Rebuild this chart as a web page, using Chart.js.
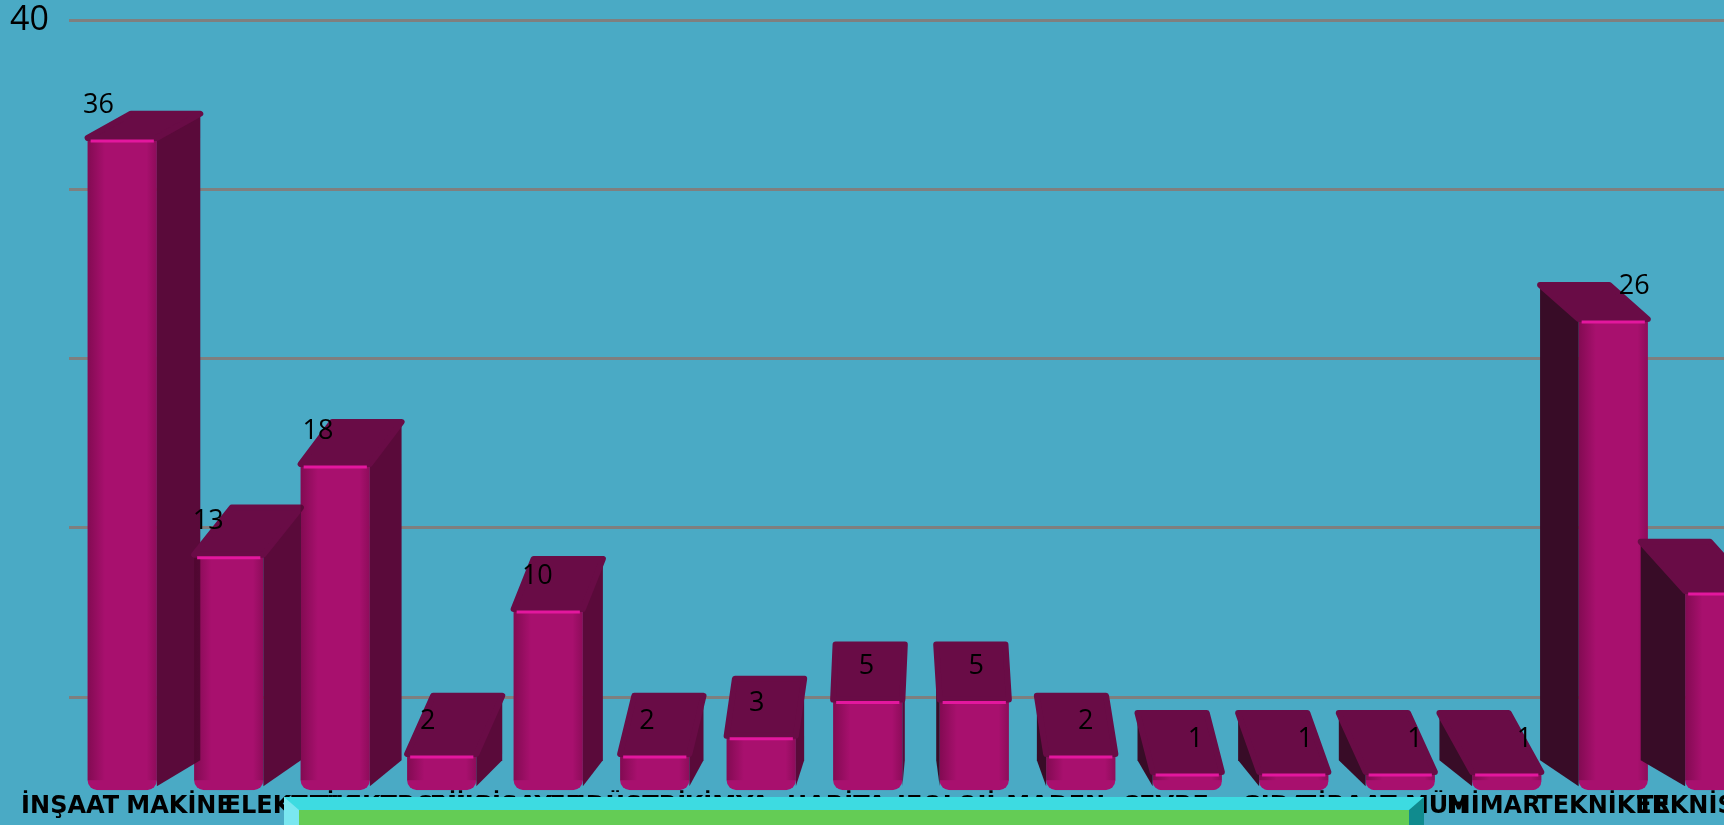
<!DOCTYPE html>
<html>
<head>
<meta charset="utf-8">
<script src="https://cdn.jsdelivr.net/npm/chart.js@4.4.0/dist/chart.umd.min.js"></script>
<style>
  html, body { margin: 0; padding: 0; width: 1724px; height: 825px; overflow: hidden; background: #4aaac5; }
  canvas { display: block; }
</style>
</head>
<body>
<canvas id="grafico" width="1780" height="825"></canvas>
<script>
const bolumler = [
  "İNŞAAT", "MAKİNE", "ELEKTRİK", "ELEKTRONİK", "BİLGİSAYAR", "ENDÜSTRİ",
  "KİMYA", "HARİTA", "JEOLOJİ", "MADEN", "ÇEVRE", "GIDA",
  "ZİRAAT MÜH", "MİMAR", "TEKNİKER", "TEKNİSYEN"
];
const kisiSayisi = [36, 13, 18, 2, 10, 2, 3, 5, 5, 2, 1, 1, 1, 1, 26, 11];
const duvarTikleri = [0, 10, 20, 30, 40];
const gosterilenTik = 40;

// 3B görünüm: üst yüz, yan yüz, parlama ve değer yazısı
const kabartma = {
  id: 'kabartma',
  afterDatasetsDraw(chart) {
    const ctx = chart.ctx;
    const vpX = 912;
    const meta = chart.getDatasetMeta(0);

    meta.data.forEach((bar, i) => {
      const { x, y, base, width } = bar.getProps(['x', 'y', 'base', 'width'], true);
      const l = x - width / 2, r = x + width / 2;
      const dy = 24 + 0.055 * (y - 134);
      const sx = (vpX - x) * 0.055;
      const dyb = (24 + 0.055 * (base - 134)) * 0.5;

      ctx.save();

      // yan yüz
      const e = sx > 0 ? r : l;
      ctx.fillStyle = sx > 0 ? '#5a0a3a' : '#380c27';
      ctx.beginPath();
      ctx.moveTo(e, y);
      ctx.lineTo(e + sx, y - dy);
      ctx.lineTo(e + sx, base - dyb);
      ctx.lineTo(e, base - 4);
      ctx.closePath();
      ctx.fill();

      // ön yüz gölgesi
      const g = ctx.createLinearGradient(l, 0, r, 0);
      g.addColorStop(0, 'rgba(60,0,30,0.35)');
      g.addColorStop(0.25, 'rgba(60,0,30,0)');
      g.addColorStop(0.85, 'rgba(60,0,30,0)');
      g.addColorStop(1, 'rgba(60,0,30,0.25)');
      ctx.fillStyle = g;
      ctx.fillRect(l, y, width, Math.max(0, base - y - 10));

      // üst yüz
      ctx.fillStyle = '#690c46';
      ctx.strokeStyle = '#690c46';
      ctx.lineJoin = 'round';
      ctx.lineWidth = 6;
      ctx.beginPath();
      ctx.moveTo(l, y);
      ctx.lineTo(r, y);
      ctx.lineTo(r + sx, y - dy);
      ctx.lineTo(l + sx, y - dy);
      ctx.closePath();
      ctx.fill();
      ctx.stroke();

      // parlama
      ctx.strokeStyle = '#e3179e';
      ctx.lineWidth = 3;
      ctx.beginPath();
      ctx.moveTo(l + 3, y + 3);
      ctx.lineTo(r - 3, y + 3);
      ctx.stroke();

      // değer
      ctx.fillStyle = '#000';
      ctx.font = '27px "Open Sans"';
      ctx.textAlign = 'center';
      ctx.textBaseline = 'middle';
      ctx.fillText(String(kisiSayisi[i]), x + (x - vpX) * 0.03, y - 33);

      ctx.restore();
    });
  },
  afterDraw(chart) {
    // alttaki zemin kutusu
    const ctx = chart.ctx;
    ctx.save();
    ctx.fillStyle = '#3ddbe1';
    ctx.fillRect(284, 797, 1140, 28);
    ctx.fillStyle = '#64cc55';
    ctx.fillRect(299, 810, 1110, 15);
    ctx.fillStyle = '#7ae7f0';
    ctx.beginPath();
    ctx.moveTo(284, 797); ctx.lineTo(299, 810); ctx.lineTo(299, 825); ctx.lineTo(284, 825);
    ctx.closePath(); ctx.fill();
    ctx.fillStyle = '#108b8e';
    ctx.beginPath();
    ctx.moveTo(1409, 810); ctx.lineTo(1424, 797); ctx.lineTo(1424, 825); ctx.lineTo(1409, 825);
    ctx.closePath(); ctx.fill();
    ctx.restore();
  }
};

new Chart(document.getElementById('grafico'), {
  type: 'bar',
  data: {
    labels: bolumler,
    datasets: [{
      data: kisiSayisi,
      backgroundColor: '#a8106e',
      borderRadius: { topLeft: 0, topRight: 0, bottomLeft: 10, bottomRight: 10 },
      borderSkipped: false,
      categoryPercentage: 1,
      barPercentage: 0.65,
      xAxisID: 'x',
      yAxisID: 'y'
    }]
  },
  options: {
    responsive: false,
    animation: false,
    devicePixelRatio: 1,
    layout: { padding: { left: 0, right: 7, top: 0, bottom: 2 } },
    plugins: { legend: { display: false }, tooltip: { enabled: false } },
    scales: {
      x: { display: false },
      // kategori adları (perspektif nedeniyle çubuklardan biraz daha geniş aralıklı)
      etiket: {
        type: 'linear',
        position: 'bottom',
        offset: false,
        min: -0.01,
        max: 15.55,
        afterBuildTicks: s => { s.ticks = bolumler.map((_, i) => ({ value: i })); },
        afterFit: s => { s.paddingLeft = 0; s.paddingRight = 0; },
        grid: { display: false, drawTicks: false, offset: false },
        border: { display: false },
        ticks: {
          autoSkip: false,
          maxRotation: 0,
          minRotation: 0,
          padding: 2,
          color: '#000',
          font: { family: '"DejaVu Sans", sans-serif', weight: 'bold', size: 24 },
          callback: v => bolumler[v]
        }
      },
      y: { display: false, min: 0, max: 42.5 },
      duvar: {
        type: 'linear',
        position: 'left',
        min: -5.5,
        max: 40,
        afterBuildTicks: s => { s.ticks = duvarTikleri.map(v => ({ value: v })); },
        afterFit: s => { s.width = 69; },
        grid: { color: '#7f7f7f', lineWidth: 3, drawTicks: false },
        border: { display: false },
        ticks: {
          padding: 20,
          color: '#000',
          font: { family: '"Open Sans", sans-serif', size: 34, lineHeight: 0.01 },
          callback: v => (v === gosterilenTik ? String(v) : '')
        }
      }
    }
  },
  plugins: [kabartma]
});
</script>
</body>
</html>
